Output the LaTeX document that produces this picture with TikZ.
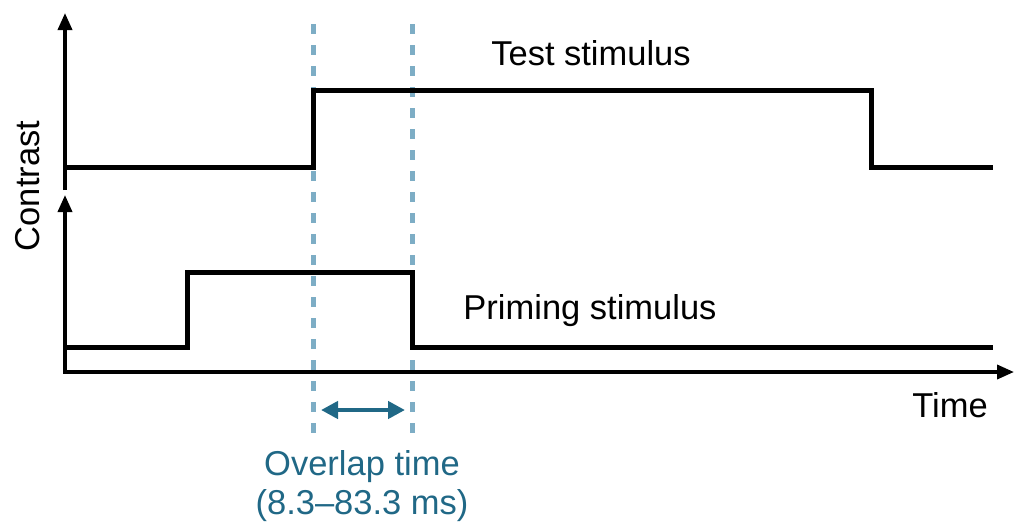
\documentclass[tikz,border=0pt]{standalone}
\usepackage{fontspec}
\setmainfont{Liberation Sans}
\usetikzlibrary{arrows.meta}
\definecolor{dashblue}{RGB}{125,173,197}
\definecolor{tealtext}{RGB}{32,104,134}
\tikzset{
  axisline/.style={line width=3.6pt, -{Triangle[length=17pt,width=14pt]}},
  signal/.style={line width=5pt, line join=miter},
  guide/.style={dashblue, line width=5pt, dash pattern=on 10pt off 11pt},
  lbl/.style={font=\fontsize{34.5}{40}\selectfont, inner sep=0pt},
}
\begin{document}
\begin{tikzpicture}[x=1pt,y=-1pt]
\useasboundingbox (0,0) rectangle (1019,531);
% axes
\coordinate (ua0) at (65,190);
\coordinate (ua1) at (65,13);
\coordinate (la0) at (65,373);
\coordinate (la1) at (65,195);
\coordinate (xa0) at (63.2,372);
\coordinate (xa1) at (1014,372);
\draw[axisline] (ua0) -- (ua1);
\draw[axisline] (la0) -- (la1);
\draw[axisline] (xa0) -- (xa1);
% guides
\coordinate (g1a) at (313,24);
\coordinate (g1b) at (313,436);
\coordinate (g2a) at (412,24);
\coordinate (g2b) at (412,436);
\draw[guide] (g1a) -- (g1b);
\draw[guide] (g2a) -- (g2b);
% signals
\draw[signal] (65,167) -- (313,167) -- (313,90) -- (871,90) -- (871,167) -- (993,167);
\draw[signal] (65,347) -- (187,347) -- (187,272) -- (412,272) -- (412,347) -- (993,347);
% overlap arrow
\coordinate (oa) at (321,410);
\coordinate (ob) at (405,410);
\draw[tealtext, line width=4.5pt, {Triangle[length=17pt,width=17pt]}-{Triangle[length=17pt,width=17pt]}] (oa) -- (ob);
% labels
\node[lbl] (test) at (591,53) {Test stimulus};
\node[lbl] (prime) at (590,311) {Priming stimulus};
\node[lbl] (time) at (950,405) {Time};
\node[lbl, rotate=90] (contrast) at (28,186) {Contrast};
\node[lbl, tealtext] (ov1) at (362,467) {Overlap time};
\node[lbl, tealtext] (ov2) at (362,506) {(8.3--83.3 ms)};
\end{tikzpicture}
\end{document}
